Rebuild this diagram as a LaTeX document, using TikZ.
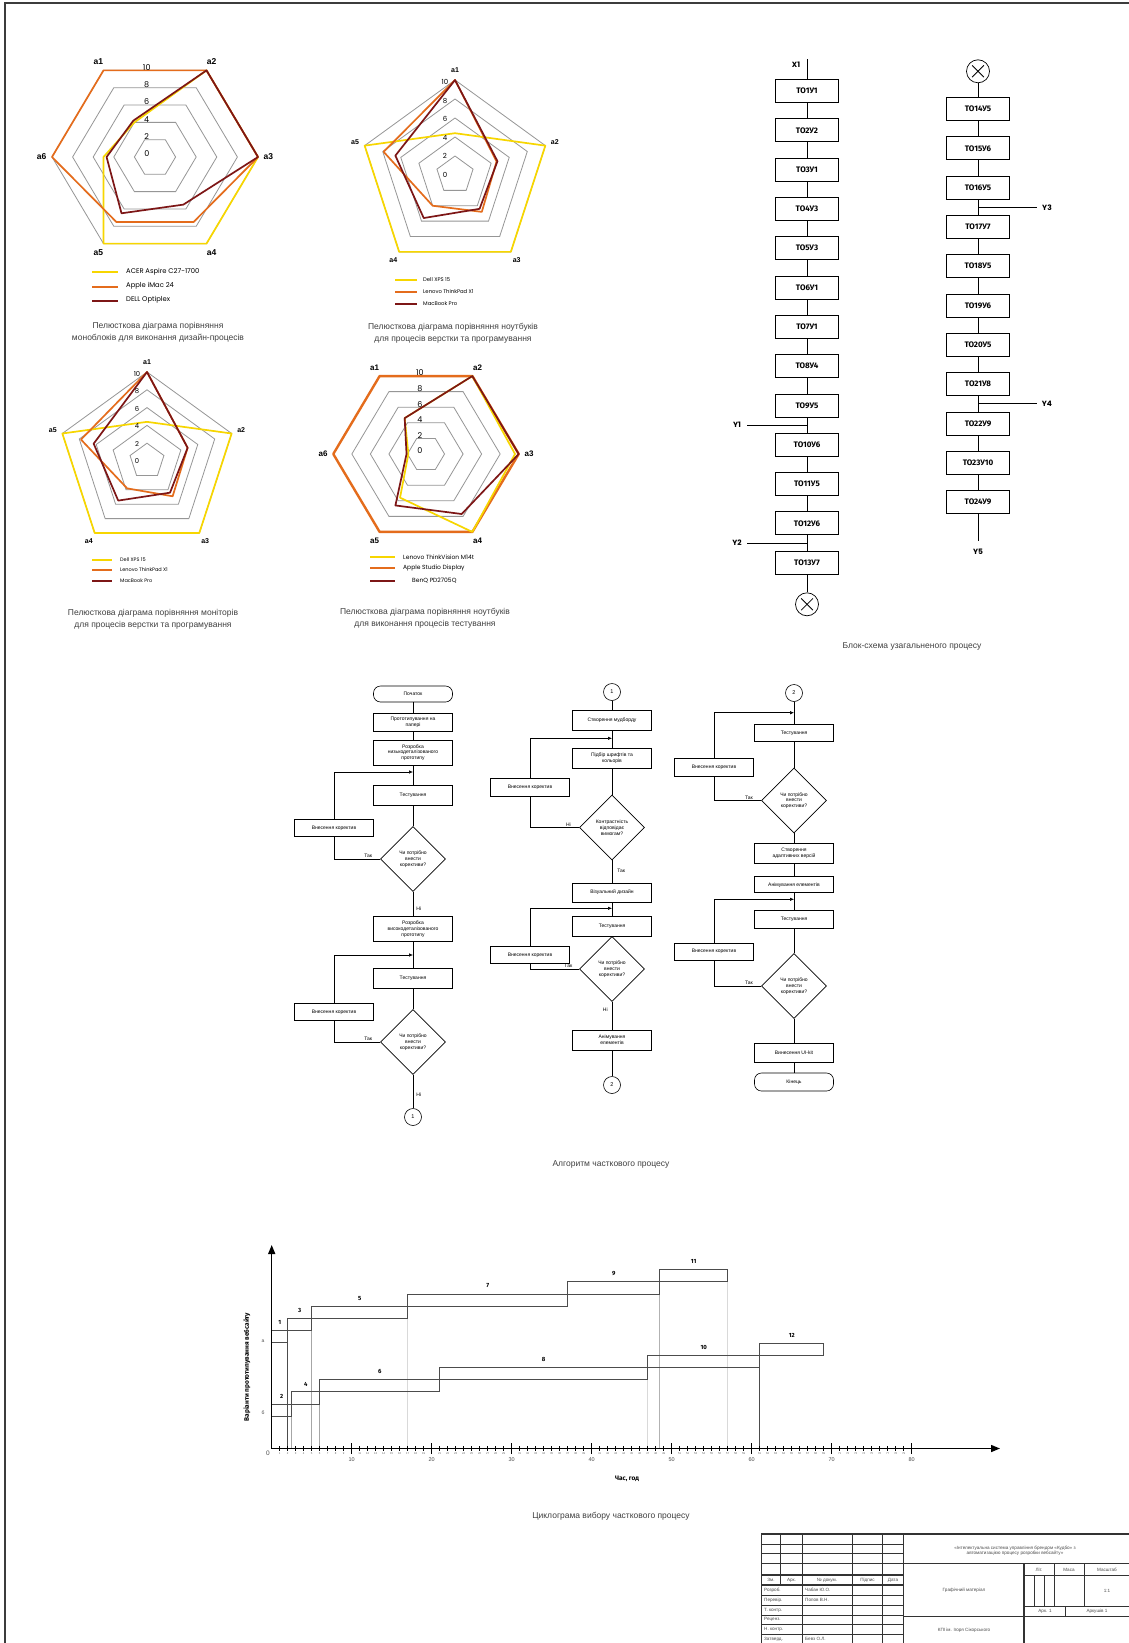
\documentclass[tikz,border=0pt]{standalone}
\usepackage{fontspec}
\setmainfont{Liberation Sans}
\newfontfamily\popfont{Poppins}
\newfontfamily\firafont{Fira Sans}
\usetikzlibrary{arrows.meta, positioning, shapes.geometric, calc}
\definecolor{petalyellow}{RGB}{247,214,0}
\definecolor{petalorange}{RGB}{228,108,28}
\definecolor{petalred}{RGB}{125,22,22}
\definecolor{petalgrid}{RGB}{150,150,150}
\definecolor{inkgray}{RGB}{60,60,60}

% one closed polygon of a petal chart: style, count, unit, angle/value list
\newcommand{\petal}[4]{%
  \foreach \ang/\val [count=\i] in {#4} {\coordinate (p\i) at (\ang:{\val*#3});}
  \draw[#1] (p1) \foreach \j in {2,...,#2} {-- (p\j)} -- cycle;
}
% grid rings 2..10: angle list, unit
\newcommand{\petalrings}[2]{%
  \foreach \v in {2,4,...,10}
    \draw[gridline] plot[samples at={#1}, variable=\t] (\t:{\v*#2}) -- cycle;
}

\begin{document}
\begin{tikzpicture}[
    x=1pt, y=-1pt,
    gridline/.style={draw=petalgrid, line width=0.8pt},
    series/.style={line width=1.7pt, line join=round},
    ringnum/.style={font=\popfont\fontsize{8}{8}\selectfont, inner sep=0pt},
    axislab/.style={font=\bfseries\fontsize{8}{8}\selectfont, inner sep=0pt},
    legline/.style={line width=1.4pt},
    legtext/.style={anchor=west, inner sep=0pt, font=\popfont\fontsize{6.8}{7}\selectfont},
    captext/.style={align=center, text=black!75, font=\fontsize{8.5}{12}\selectfont},
    tobox/.style={draw, line width=0.7pt, minimum width=63pt, minimum height=23pt, inner sep=0pt, font=\firafont\bfseries\fontsize{8}{9}\selectfont},
    chainline/.style={line width=0.8pt},
    xcirc/.style={circle, draw, line width=0.7pt, minimum size=23pt, inner sep=0pt},
    siglab/.style={font=\popfont\bfseries\fontsize{7.5}{8}\selectfont, inner sep=0pt},
    fbox/.style={draw, line width=0.6pt, minimum width=79pt, minimum height=18pt, inner sep=1pt, align=center, font=\fontsize{5}{5.8}\selectfont},
    terminal/.style={fbox, rounded corners=7pt, minimum height=16pt},
    decision/.style={diamond, draw, line width=0.6pt, aspect=1, minimum width=65pt, minimum height=65pt, inner sep=0pt, align=center, font=\fontsize{5}{5.8}\selectfont},
    connector/.style={circle, draw, line width=0.6pt, minimum size=17pt, inner sep=0pt, font=\fontsize{5.5}{6}\selectfont},
    flowline/.style={line width=0.6pt},
    backarrow/.style={flowline, -{Latex[length=4pt,width=3.5pt]}},
    ans/.style={font=\fontsize{5}{6}\selectfont, inner sep=1pt},
    timeaxis/.style={line width=1.4pt, -{Triangle[length=9pt,width=7pt]}},
    workbar/.style={draw=black!70, line width=0.8pt},
    worklab/.style={font=\firafont\bfseries\fontsize{6}{6}\selectfont, inner sep=0pt},
    tinytick/.style={font=\fontsize{2.8}{3}\selectfont, text=black!60, inner sep=0pt},
    bigtick/.style={font=\fontsize{5.5}{6}\selectfont, text=black!70, inner sep=0pt},
    axistitle/.style={font=\firafont\bfseries\fontsize{6.5}{7}\selectfont, inner sep=0pt},
    tbtext/.style={font=\fontsize{4.6}{5.2}\selectfont, text=black!70, inner sep=0pt, align=center}
]
\useasboundingbox (0,0) rectangle (1129,1643);
\fill[white] (0,0) rectangle (1129,1643);
\draw[line width=2.5pt, draw=inkgray] (5,1643) -- (5,3) -- (1129,3);

% ---------- petal chart 1 (monoblocks) ----------
\begin{scope}[shift={(155,157)}, yscale=-1, xscale=1.03]
  \petalrings{0,60,...,300}{10}
  \petal{series, petalyellow}{6}{10}{120/4,60/10,0/10,-60/10,-120/10,180/5}
  \petal{series, petalorange}{6}{10}{120/10,60/10,0/10,-60/7.5,-120/7.5,180/10}
  \petal{series, petalred}{6}{10}{120/4.2,60/10,0/10,-60/5.5,-120/6.5,180/4.7}
  \foreach \v in {0,2,...,10} \node[ringnum] (ra\v) at (-8,{0.866*\v*10+3}) {\v};
  \foreach \ang [count=\i] in {120,60,0,-60,-120,180} \node[axislab, font=\bfseries\fontsize{8.5}{9}\selectfont] (aa\i) at (\ang:110) {a\i};
\end{scope}
\draw[legline, petalyellow] (92,272) -- (118,272);
\draw[legline, petalorange] (92,287) -- (118,287);
\draw[legline, petalred] (92,301) -- (118,301);
\node[legtext] (leg1a) at (126,272) {ACER Aspire C27-1700};
\node[legtext] (leg1b) at (126,286) {Apple iMac 24};
\node[legtext] (leg1c) at (126,300) {DELL Optiplex};
\node[captext] (cap1) at (158,332) {Пелюсткова діаграма порівняння\\моноблоків для виконання дизайн-процесів};

% ---------- petal chart 2 (laptops) ----------
\begin{scope}[shift={(455,175)}, yscale=-1]
  \petalrings{18,90,...,306}{9.5}
  \petal{series, petalyellow}{5}{9.5}{90/4.4,18/10,-54/10,-126/10,162/10}
  \petal{series, petalorange}{5}{9.5}{90/10,18/4.6,-54/4.8,-126/4,162/7.9}
  \petal{series, petalred}{5}{9.5}{90/10,18/4.7,-54/4.4,-126/5.6,162/6.6}
  \foreach \v in {0,2,...,10} \node[ringnum, font=\popfont\fontsize{7}{7}\selectfont] (rb\v) at (-10,{\v*9.3}) {\v};
  \foreach \ang [count=\i] in {90,18,-54,-126,162} \node[axislab, font=\bfseries\fontsize{7}{7}\selectfont] (ab\i) at (\ang:105) {a\i};
\end{scope}
\draw[legline, petalyellow] (395,280) -- (417,280);
\draw[legline, petalorange] (395,292) -- (417,292);
\draw[legline, petalred] (395,304) -- (417,304);
\node[legtext, font=\popfont\fontsize{5.3}{6}\selectfont] (leg2a) at (423,280) {Dell XPS 15};
\node[legtext, font=\popfont\fontsize{5.3}{6}\selectfont] (leg2b) at (423,292) {Lenovo ThinkPad X1};
\node[legtext, font=\popfont\fontsize{5.3}{6}\selectfont] (leg2c) at (423,304) {MacBook Pro};
\node[captext] (cap2) at (453,333) {Пелюсткова діаграма порівняння ноутбуків\\для процесів верстки та програмування};

% ---------- petal chart 3 (monitors) ----------
\begin{scope}[shift={(147,461)}, yscale=-1]
  \petalrings{18,90,...,306}{8.9}
  \petal{series, petalyellow}{5}{8.9}{90/4.4,18/10,-54/10,-126/10,162/10}
  \petal{series, petalorange}{5}{8.9}{90/10,18/4.8,-54/4.9,-126/3.8,162/7.8}
  \petal{series, petalred}{5}{8.9}{90/10,18/4.8,-54/4.4,-126/5.5,162/6.3}
  \foreach \v in {0,2,...,10} \node[ringnum, font=\popfont\fontsize{6.8}{7}\selectfont] (rc\v) at (-10,{\v*8.7}) {\v};
  \foreach \ang [count=\i] in {90,18,-54,-126,162} \node[axislab, font=\bfseries\fontsize{7}{7}\selectfont] (ac\i) at (\ang:99) {a\i};
\end{scope}
\draw[legline, petalyellow] (92,560) -- (112,560);
\draw[legline, petalorange] (92,570) -- (112,570);
\draw[legline, petalred] (92,581) -- (112,581);
\node[legtext, font=\popfont\fontsize{5}{6}\selectfont] (leg3a) at (120,560) {Dell XPS 15};
\node[legtext, font=\popfont\fontsize{5}{6}\selectfont] (leg3b) at (120,570) {Lenovo ThinkPad X1};
\node[legtext, font=\popfont\fontsize{5}{6}\selectfont] (leg3c) at (120,581) {MacBook Pro};
\node[captext] (cap3) at (153,619) {Пелюсткова діаграма порівняння моніторів\\для процесів верстки та програмування};

% ---------- petal chart 4 (testing) ----------
\begin{scope}[shift={(426,454)}, yscale=-1, xscale=1.03]
  \petalrings{0,60,...,300}{9}
  \petal{series, petalorange, line width=2.4pt}{6}{9}{120/10,60/10,0/10,-60/10,-120/10,180/10}
  \petal{series, petalyellow}{6}{9}{120/4.6,60/10,0/9.6,-60/10,-120/5.6,180/1.9}
  \petal{series, petalred}{6}{9}{120/4.6,60/10,0/10,-60/7.7,-120/6.6,180/2.1}
  \foreach \v in {0,2,...,10} \node[ringnum] (rd\v) at (-6,{0.866*\v*9+3}) {\v};
  \foreach \ang [count=\i] in {120,60,0,-60,-120,180} \node[axislab] (ad\i) at (\ang:100) {a\i};
\end{scope}
\draw[legline, petalyellow] (370,557) -- (395,557);
\draw[legline, petalorange] (370,568) -- (395,568);
\draw[legline, petalred] (370,581) -- (395,581);
\node[legtext, font=\popfont\fontsize{6}{6}\selectfont] (leg4a) at (403,557) {Lenovo ThinkVision M14t};
\node[legtext, font=\popfont\fontsize{6}{6}\selectfont] (leg4b) at (403,568) {Apple Studio Display};
\node[legtext, font=\popfont\fontsize{6}{6}\selectfont] (leg4c) at (412,581) {BenQ PD2705Q};
\node[captext] (cap4) at (425,618) {Пелюсткова діаграма порівняння ноутбуків\\для виконання процесів тестування};

% ---------- block scheme ----------
\node[tobox] (to1) at (807,91) {ТО1У1};
\foreach \lab [count=\i from 2] in {ТО2У2,ТО3У1,ТО4У3,ТО5У3,ТО6У1,ТО7У1,ТО8У4,ТО9У5,ТО10У6,ТО11У5,ТО12У6,ТО13У7}{
  \pgfmathtruncatemacro{\prev}{\i-1}
  \node[tobox, below=15.6pt of to\prev] (to\i) {\lab};
  \draw[chainline] (to\prev) -- (to\i);
}
\node[tobox] (to14) at (978,109) {ТО14У5};
\foreach \lab [count=\i from 15] in {ТО15У6,ТО16У5,ТО17У7,ТО18У5,ТО19У6,ТО20У5,ТО21У8,ТО22У9,ТО23У10,ТО24У9}{
  \pgfmathtruncatemacro{\prev}{\i-1}
  \node[tobox, below=15.6pt of to\prev] (to\i) {\lab};
  \draw[chainline] (to\prev) -- (to\i);
}
\node[xcirc, below=18pt of to13] (stopA) {};
\draw[chainline] (to13) -- (stopA);
\draw[chainline, shorten <=3.5pt, shorten >=3.5pt] (stopA.45) -- (stopA.225);
\draw[chainline, shorten <=3.5pt, shorten >=3.5pt] (stopA.135) -- (stopA.315);
\node[xcirc, above=14pt of to14] (startB) {};
\draw[chainline] (startB) -- (to14);
\draw[chainline, shorten <=3.5pt, shorten >=3.5pt] (startB.45) -- (startB.225);
\draw[chainline, shorten <=3.5pt, shorten >=3.5pt] (startB.135) -- (startB.315);
% inputs and outputs
\coordinate (inX) at ([yshift=20pt]to1.north);
\draw[chainline] (inX) -- (to1);
\node[siglab] (labX1) at ([xshift=-11pt, yshift=-6pt]inX) {X1};
\coordinate (j1) at ($(to9.south)!0.5!(to10.north)$);
\coordinate (y1e) at ([xshift=-60pt]j1);
\draw[chainline] (y1e) -- (j1);
\node[siglab] (labY1) at ([xshift=-10pt]y1e) {Y1};
\coordinate (j2) at ($(to12.south)!0.5!(to13.north)$);
\coordinate (y2e) at ([xshift=-60pt]j2);
\draw[chainline] (y2e) -- (j2);
\node[siglab] (labY2) at ([xshift=-10pt]y2e) {Y2};
\coordinate (j3) at ($(to16.south)!0.5!(to17.north)$);
\coordinate (y3e) at ([xshift=59pt]j3);
\draw[chainline] (j3) -- (y3e);
\node[siglab] (labY3) at ([xshift=10pt]y3e) {Y3};
\coordinate (j4) at ($(to21.south)!0.5!(to22.north)$);
\coordinate (y4e) at ([xshift=59pt]j4);
\draw[chainline] (j4) -- (y4e);
\node[siglab] (labY4) at ([xshift=10pt]y4e) {Y4};
\coordinate (outY) at ([yshift=-27pt]to24.south);
\draw[chainline] (to24) -- (outY);
\node[siglab] (labY5) at ([yshift=-11pt]outY) {Y5};
\node[captext] (cap5) at (912,646) {Блок-схема узагальненого процесу};

% ---------- algorithm, part 1 ----------
\node[terminal] (start) at (413,694) {Початок};
\node[fbox] (paper) at (413,722) {Прототипування на\\папері};
\node[fbox, minimum height=25pt] (lowfi) at (413,752.5) {Розробка\\низькодеталізованого\\прототипу};
\node[fbox, minimum height=20pt] (test1) at (413,795) {Тестування};
\node[fbox, minimum height=17pt] (fix1) at (334,828) {Внесення коректив};
\node[decision] (ask1) at (413,859) {Чи потрібно\\внести\\корективи?};
\node[fbox, minimum height=25pt] (hifi) at (413,929) {Розробка\\високодеталізованого\\прототипу};
\node[fbox, minimum height=20pt] (test2) at (413,978) {Тестування};
\node[fbox, minimum height=17pt] (fix2) at (334,1012) {Внесення коректив};
\node[decision] (ask2) at (413,1042) {Чи потрібно\\внести\\корективи?};
\node[connector] (c1a) at (413,1117) {1};
\coordinate (m1) at (413,772);
\coordinate (m2) at (413,955);
\draw[flowline] (start) -- (paper);
\draw[flowline] (paper) -- (lowfi);
\draw[flowline] (lowfi) -- (test1);
\draw[flowline] (test1) -- (ask1);
\draw[flowline] (ask1.west) -| node[ans, pos=0.13, above] {Так} (fix1.south);
\draw[backarrow] (fix1.north) |- (m1);
\draw[flowline] (ask1.south) -- node[ans, pos=0.7, right=2pt] {Ні} (hifi);
\draw[flowline] (hifi) -- (test2);
\draw[flowline] (test2) -- (ask2);
\draw[flowline] (ask2.west) -| node[ans, pos=0.13, above] {Так} (fix2.south);
\draw[backarrow] (fix2.north) |- (m2);
\draw[flowline] (ask2.south) -- node[ans, pos=0.6, right=2pt] {Ні} (c1a);

% ---------- algorithm, part 2 ----------
\node[connector] (c1b) at (612,692) {1};
\node[fbox, minimum height=20pt] (mood) at (612,720) {Створення мудборду};
\node[fbox, minimum height=20pt] (fonts) at (612,758) {Підбір шрифтів та\\кольорів};
\node[fbox] (fix3) at (530,787) {Внесення коректив};
\node[decision] (ask3) at (612,827.5) {Контрастність\\відповідає\\вимогам?};
\node[fbox, minimum height=19pt] (visual) at (612,892.5) {Візуальний дизайн};
\node[fbox, minimum height=20pt] (test3) at (612,926.7) {Тестування};
\node[fbox, minimum height=17pt] (fix4) at (530,955) {Внесення коректив};
\node[decision] (ask4) at (612,969) {Чи потрібно\\внести\\корективи?};
\node[fbox, minimum height=20pt] (anim1) at (612,1040) {Анімування\\елементів};
\node[connector] (c2a) at (612,1085) {2};
\coordinate (m3) at (612,738.3);
\coordinate (m4) at (612,908.3);
\draw[flowline] (c1b) -- (mood);
\draw[flowline] (mood) -- (fonts);
\draw[flowline] (fonts) -- (ask3);
\draw[flowline] (ask3.west) -| node[ans, pos=0.11, above] {Ні} (fix3.south);
\draw[backarrow] (fix3.north) |- (m3);
\draw[flowline] (ask3.south) -- node[ans, pos=0.45, right=4pt] {Так} (visual);
\draw[flowline] (visual) -- (test3);
\draw[flowline] (test3) -- (ask4);
\draw[flowline] (ask4.west) -| node[ans, pos=0.11, above] {Так} (fix4.south);
\draw[backarrow] (fix4.north) |- (m4);
\draw[flowline] (ask4.south) -- node[ans, pos=0.3, left=3pt] {Ні} (anim1);
\draw[flowline] (anim1) -- (c2a);

% ---------- algorithm, part 3 ----------
\node[connector] (c2b) at (794,693) {2};
\node[fbox, minimum height=17pt] (test4) at (794,733) {Тестування};
\node[fbox] (fix5) at (714,767) {Внесення коректив};
\node[decision] (ask5) at (794,800.5) {Чи потрібно\\внести\\корективи?};
\node[fbox, minimum height=20pt] (adapt) at (794,853) {Створення\\адаптивних версій};
\node[fbox, minimum height=16pt] (anim2) at (794,884.7) {Анімування елементів};
\node[fbox] (test5) at (794,919) {Тестування};
\node[fbox, minimum height=17pt] (fix6) at (714,951.7) {Внесення коректив};
\node[decision] (ask6) at (794,986) {Чи потрібно\\внести\\корективи?};
\node[fbox, minimum height=19pt] (uikit) at (794,1052.5) {Винесення UI-kit};
\node[terminal, minimum height=18pt] (finish) at (794,1082) {Кінець};
\coordinate (m5) at (794,712.7);
\coordinate (m6) at (794,899.3);
\draw[flowline] (c2b) -- (test4);
\draw[flowline] (test4) -- (ask5);
\draw[flowline] (ask5.west) -| node[ans, pos=0.13, above] {Так} (fix5.south);
\draw[backarrow] (fix5.north) |- (m5);
\draw[flowline] (ask5.south) -- (adapt);
\draw[flowline] (adapt) -- (anim2);
\draw[flowline] (anim2) -- (test5);
\draw[flowline] (test5) -- (ask6);
\draw[flowline] (ask6.west) -| node[ans, pos=0.13, above] {Так} (fix6.south);
\draw[backarrow] (fix6.north) |- (m6);
\draw[flowline] (ask6.south) -- (uikit);
\draw[flowline] (uikit) -- (finish);
\node[captext] (cap6) at (611,1164) {Алгоритм часткового процесу};

% ---------- cyclogram ----------
\foreach \t/\ytop/\shade in {2/1318.2/black!70, 2.5/1391.8/black!35, 5/1306.1/black!35, 6/1379.7/black!35, 17/1294/black!15, 47/1355.7/black!15, 48.5/1270/black!30, 57/1281.7/black!15, 61/1343.4/black!70}
  \draw[\shade, line width=0.6pt] ({271.7+8*\t},\ytop) -- ({271.7+8*\t},1448.5);
\foreach \ta/\tb/\k/\lab in {0/2/0/1, 2/5/1/3, 5/17/2/5, 17/37/3/7, 37/48.5/4/9, 48.5/57/5/11}{
  \pgfmathsetmacro{\xa}{271.7+8*\ta}
  \pgfmathsetmacro{\xb}{271.7+8*\tb}
  \pgfmathsetmacro{\yb}{1342.3-12.1*\k}
  \draw[workbar] (\xa,\yb) rectangle ({\xb},{\yb-12.1});
  \node[worklab] (work\lab) at ({(\xa+\xb)/2},{\yb-20}) {\lab};
}
\foreach \ta/\tb/\k/\lab in {0/2.5/0/2, 2.5/6/1/4, 6/21/2/6, 21/47/3/8, 47/61/4/10, 61/69/5/12}{
  \pgfmathsetmacro{\xa}{271.7+8*\ta}
  \pgfmathsetmacro{\xb}{271.7+8*\tb}
  \pgfmathsetmacro{\yb}{1416-12.06*\k}
  \draw[workbar] (\xa,\yb) rectangle ({\xb},{\yb-12.06});
  \node[worklab] (work\lab) at ({(\xa+\xb)/2},{\yb-20}) {\lab};
}
\coordinate (origin) at (271.7,1448.5);
\coordinate (tEnd) at (1000,1448.5);
\coordinate (vEnd) at (271.7,1245);
\draw[timeaxis] (origin) -- (tEnd);
\draw[timeaxis] (origin) -- (vEnd);
\foreach \t in {1,...,80}{
  \pgfmathtruncatemacro{\rem}{mod(\t,10)}
  \ifnum\rem=0
    \draw[line width=0.9pt] ({271.7+8*\t},1443) -- ({271.7+8*\t},1454);
    \node[bigtick] (tick\t) at ({271.7+8*\t},1459.5) {\t};
  \else
    \draw[line width=0.5pt] ({271.7+8*\t},1446) -- ({271.7+8*\t},1451);
    \node[tinytick] (tick\t) at ({271.7+8*\t},1453.5) {\t};
  \fi
}
\node[bigtick, font=\fontsize{6.5}{7}\selectfont] (tick0) at (268,1453) {0};
\node[tbtext, font=\fontsize{5}{5}\selectfont] (varA) at (263,1341) {а};
\node[tbtext, font=\fontsize{5}{5}\selectfont] (varB) at (263,1413) {б};
\node[axistitle, rotate=90] (vTitle) at (247,1367) {Варіанти прототипування вебсайту};
\node[axistitle] (tTitle) at (627,1479) {Час, год};
\node[captext] (cap7) at (611,1516) {Циклограма вибору часткового процесу};

% ---------- title block ----------
\begin{scope}[draw=black!80, line width=0.5pt]
  \draw[line width=1.6pt] (761.5,1643) -- (761.5,1534) -- (1129,1534);
  \draw[line width=1.6pt] (903.3,1534) -- (903.3,1643);
  \draw[line width=1.2pt] (903.3,1563.3) -- (1129,1563.3);
  \draw[line width=1.2pt] (1024,1563.3) -- (1024,1643);
  \foreach \y in {1544,1553.3,1563.3,1595,1605,1615,1624.3,1634.3} \draw (761.5,\y) -- (903.3,\y);
  \draw[line width=1.1pt] (761.5,1575) -- (903.3,1575);
  \draw[line width=1.1pt] (761.5,1585) -- (903.3,1585);
  \draw (780.7,1534) -- (780.7,1585);
  \foreach \x in {802.3,852.3,882.7} \draw (\x,1534) -- (\x,1643);
  \draw (1024,1575) -- (1129,1575);
  \draw (1024,1606) -- (1129,1606);
  \draw (903.3,1616) -- (1129,1616);
  \draw (1054,1563.3) -- (1054,1606);
  \draw (1084,1563.3) -- (1084,1606);
  \draw (1034,1575) -- (1034,1606);
  \draw (1044,1575) -- (1044,1606);
  \draw (1065,1606) -- (1065,1616);
\end{scope}
\node[tbtext] (tbZm) at (771,1580) {Зм.};
\node[tbtext] (tbArk) at (791.5,1580) {Арк.};
\node[tbtext] (tbDoc) at (827,1580) {№ докум.};
\node[tbtext] (tbSign) at (867.5,1580) {Підпис};
\node[tbtext] (tbDate) at (893,1580) {Дата};
\node[tbtext, anchor=west] (tbR1) at (764,1590) {Розроб.};
\node[tbtext, anchor=west] (tbR2) at (764,1600) {Перевір.};
\node[tbtext, anchor=west] (tbR3) at (764,1610) {Т. контр.};
\node[tbtext, anchor=west] (tbR4) at (764,1619.7) {Реценз.};
\node[tbtext, anchor=west] (tbR5) at (764,1629.3) {Н. контр.};
\node[tbtext, anchor=west] (tbR6) at (764,1639) {Затверд.};
\node[tbtext, anchor=west] (tbN1) at (805,1590) {Чабан Ю.О.};
\node[tbtext, anchor=west] (tbN2) at (805,1600) {Попов В.Н.};
\node[tbtext, anchor=west] (tbN6) at (805,1639) {Бевз О.Л.};
\node[tbtext] (tbTitle) at (1015,1551) {«Інтелектуальна система управління брендом «Кудбо» з\\автоматизацією процесу розробки вебсайту»};
\node[tbtext] (tbLit) at (1039,1570) {Літ.};
\node[tbtext] (tbMass) at (1069,1570) {Маса};
\node[tbtext] (tbScale) at (1107,1570) {Масштаб};
\node[tbtext] (tbScaleV) at (1107,1591) {1:1};
\node[tbtext] (tbSheet) at (1045,1611) {Арк. 1};
\node[tbtext] (tbSheets) at (1097,1611) {Аркушів 1};
\node[tbtext] (tbKind) at (964,1590) {Графічний матеріал};
\node[tbtext] (tbOrg) at (964,1630) {КПІ ім. Ігоря Сікорського};
\end{tikzpicture}
\end{document}
